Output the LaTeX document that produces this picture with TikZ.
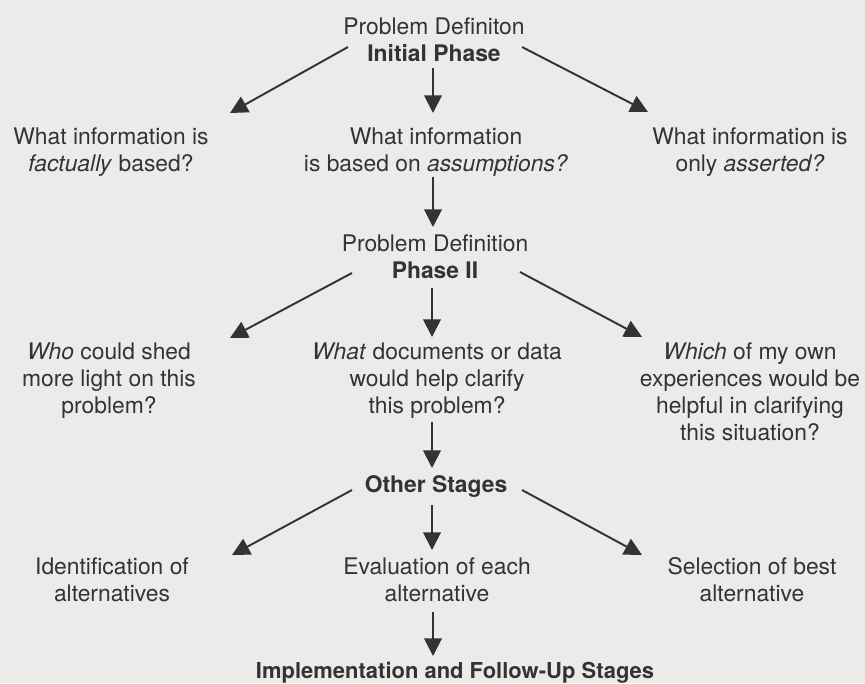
\documentclass[tikz,border=0pt]{standalone}
\usepackage{fontspec}
\setmainfont{TeX Gyre Heros}
\usepackage{xcolor}
\usetikzlibrary{arrows.meta,calc}
\definecolor{paper}{HTML}{EBEBE9}
\definecolor{ink}{HTML}{333333}

\begin{document}
\begin{tikzpicture}[x=0.02cm,y=-0.02cm,
		txt/.style={anchor=north,inner sep=0pt,align=center,text=ink,font=\fontsize{13}{15.4}\selectfont},
		arr/.style={-{Triangle[length=10pt,width=10pt]},line width=1.1pt,draw=ink}]
		\fill[paper] (0,0) rectangle (865,683);
		\useasboundingbox (0,0) rectangle (865,683);
		% initial phase
		\node[txt] (init) at (434,17) {Problem Definiton\\\textbf{Initial Phase}};
		\node[txt] (q1) at (111,127) {What information is\\\textit{factually} based?};
		\node[txt] (q2) at (436,127) {What information\\is based on \textit{assumptions?}};
		\node[txt] (q3) at (750,127) {What information is\\only \textit{asserted?}};
		\draw[arr] ($(init.north)+(-86,30)$) -- ($(q1.north)+(119,-14)$);
		\draw[arr] ($(init.north)+(-1,51)$) -- ($(q2.north)+(-3,-14)$);
		\draw[arr] ($(init.north)+(88,30)$) -- ($(q3.north)+(-102,-15)$);
		% phase II
		\node[txt] (ph2) at (435,234) {Problem Definition\\\textbf{Phase II}};
		\draw[arr] ($(q2.north)+(-3,50)$) -- ($(ph2.north)+(-2,-7)$);
		\node[txt] (r1) at (109,342) {\textit{Who} could shed\\more light on this\\problem?};
		\node[txt] (r2) at (437,342) {\textit{What} documents or data\\would help clarify\\this problem?};
		\node[txt] (r3) at (750,342) {\textit{Which} of my own\\experiences would be\\helpful in clarifying\\this situation?};
		\draw[arr] ($(ph2.north)+(-83,39)$) -- ($(r1.north)+(121,-4)$);
		\draw[arr] ($(ph2.north)+(-3,54)$) -- ($(r2.north)+(-5,-5)$);
		\draw[arr] ($(ph2.north)+(85,38)$) -- ($(r3.north)+(-108,-5)$);
		% other stages
		\node[txt] (other) at (436,475) {\textbf{Other Stages}};
		\draw[arr] ($(r2.north)+(-5,80)$) -- ($(other.north)+(-4,-7)$);
		\node[txt] (s1) at (112,557) {Identification of\\alternatives};
		\node[txt] (s2) at (437,557) {Evaluation of each\\alternative};
		\node[txt] (s3) at (752,557) {Selection of best\\alternative};
		\draw[arr] ($(other.north)+(-84,15)$) -- ($(s1.north)+(120,-2)$);
		\draw[arr] ($(other.north)+(-4,30)$) -- ($(s2.north)+(-5,-7)$);
		\draw[arr] ($(other.north)+(86,15)$) -- ($(s3.north)+(-110,-2)$);
		% last stage
		\node[txt,font=\fontsize{12.5}{15}\selectfont] (impl) at (455,662) {\textbf{Implementation and Follow-Up Stages}};
		\draw[arr] ($(s2.north)+(-4,55)$) -- ($(impl.north)+(-22,-6)$);
	\end{tikzpicture}
\end{document}
